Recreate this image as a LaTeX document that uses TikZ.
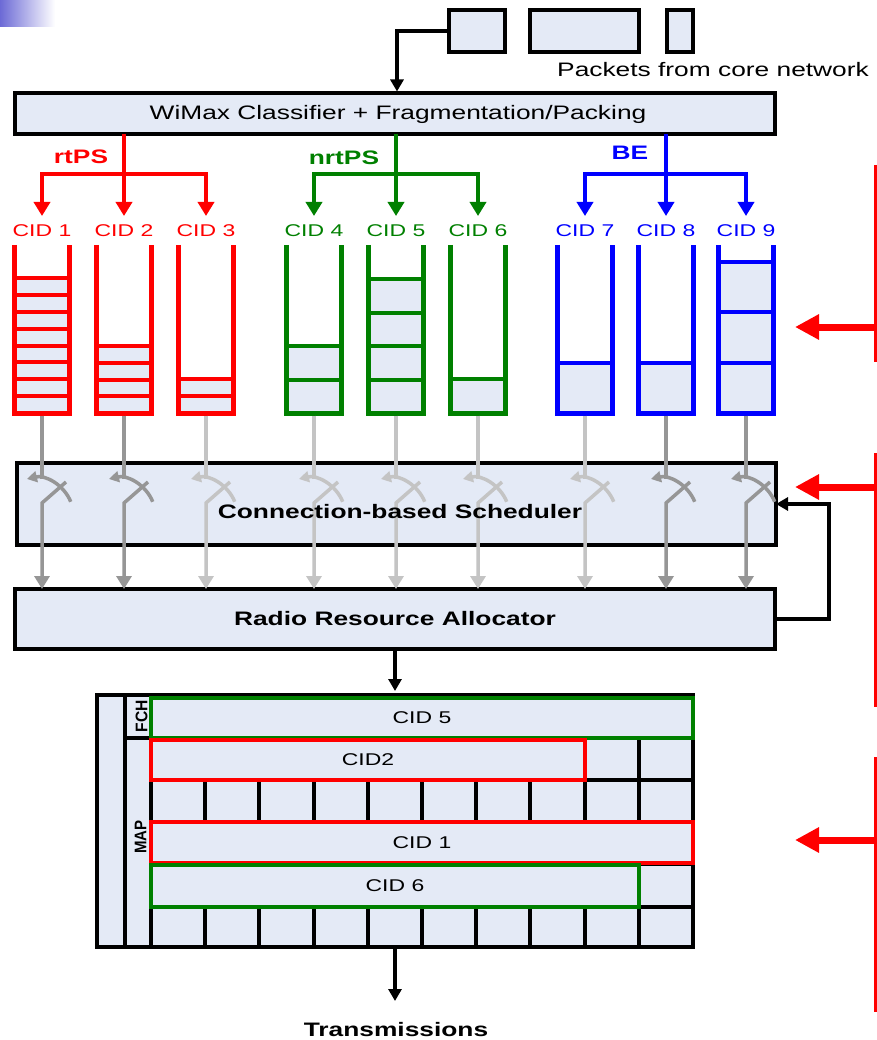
\documentclass[tikz,border=0pt]{standalone}
\usepackage{fontspec}
\setmainfont{Liberation Sans}
\usepackage{graphicx}
\usetikzlibrary{arrows.meta,calc}

\definecolor{boxfill}{RGB}{228,234,246}
\definecolor{rtred}{RGB}{255,0,0}
\definecolor{nrtgreen}{RGB}{0,128,0}
\definecolor{beblue}{RGB}{0,0,255}
\definecolor{swdark}{RGB}{150,150,150}
\definecolor{swlight}{RGB}{196,196,196}
\definecolor{cornerblue}{RGB}{108,106,214}

% wide sans lettering
\newcommand{\wide}[1]{\scalebox{1.35}[1]{#1}}

\tikzset{
  block/.style={draw=black, line width=3.5pt, fill=boxfill, inner sep=0pt, outer sep=0pt, anchor=north west},
  pkt/.style={draw=black, line width=4pt, fill=boxfill, inner sep=0pt, outer sep=0pt, anchor=north west},
  plaintxt/.style={font=\fontsize{19.5}{22}\selectfont, inner sep=0pt},
  boldtxt/.style={font=\fontsize{19.5}{22}\selectfont\bfseries, inner sep=0pt},
  cidtxt/.style={font=\fontsize{17}{20}\selectfont, inner sep=0pt},
  sidetxt/.style={font=\fontsize{12}{14}\selectfont\bfseries, inner sep=0pt, rotate=90},
  blk/.style={draw=black, line width=3.5pt, -{Triangle[width=13pt,length=12pt]}},
  branch/.style={line width=4pt, {Triangle[width=16pt,length=14pt]}-{Triangle[width=16pt,length=14pt]}},
  branchtrunk/.style={line width=4pt, -{Triangle[width=16pt,length=14pt]}},
  wall/.style={line width=5pt, line join=miter},
  cellline/.style={line width=4pt},
  greyline/.style={line width=3.5pt},
  lever/.style={line width=3.5pt, {Triangle[width=11pt,length=10pt]}-},
  droparrow/.style={line width=3.5pt, -{Triangle[width=15pt,length=13pt]}},
  cidslot/.style={line width=4pt, fill=boxfill, inner sep=0pt, outer sep=0pt, anchor=north west, font=\fontsize{17}{20}\selectfont},
  gridline/.style={line width=4pt, draw=black},
  alertarrow/.style={draw=rtred, line width=7pt, -{Triangle[width=24pt,length=24pt]}},
  alertbar/.style={draw=rtred, line width=3pt},
}

\begin{document}
\begin{tikzpicture}[x=1pt,y=-1pt]
\useasboundingbox (0,0) rectangle (876,1040);
\fill[white] (0,0) rectangle (876,1040);
\shade[left color=cornerblue, right color=white] (0,0) rectangle (55,27);

% incoming packets
\node[pkt, minimum width=56pt, minimum height=42pt] (p1) at (449,10) {};
\node[pkt, minimum width=109pt, minimum height=42pt] (p2) at (530,10) {};
\node[pkt, minimum width=26pt, minimum height=42pt] (p3) at (667,10) {};
\node[plaintxt, anchor=base west] (ptxt) at (557,77) {\wide{Packets from core network}};

% classifier
\node[block, minimum width=760pt, minimum height=41pt] (cls) at (15,93) {};
\node[plaintxt] (clstxt) at (398,114) {\wide{WiMax Classifier + Fragmentation/Packing}};
\coordinate (cin) at (397,93);
\draw[blk, shorten >=1.5pt] (p1.west) -| (cin);

% arrow ends above the queues
\foreach \i/\cx in {1/42,2/124,3/206,4/314,5/396,6/478,7/585,8/666,9/746}
  \coordinate (t\i) at (\cx,216);
\coordinate (rbar) at (124,174);
\coordinate (gbar) at (396,174);
\coordinate (bbar) at (666,174);

% service classes
\draw[branch, draw=rtred] (t1) |- (rbar) -| (t3);
\draw[branchtrunk, draw=rtred] (cls.south -| t2) -- (t2);
\draw[branch, draw=nrtgreen] (t4) |- (gbar) -| (t6);
\draw[branchtrunk, draw=nrtgreen] (cls.south -| t5) -- (t5);
\draw[branch, draw=beblue] (t7) |- (bbar) -| (t9);
\draw[branchtrunk, draw=beblue] (cls.south -| t8) -- (t8);

\node[boldtxt, text=rtred] (rtlab) at (81,157) {\wide{rtPS}};
\node[boldtxt, text=nrtgreen] (nrtlab) at (344,158) {\wide{nrtPS}};
\node[boldtxt, text=beblue] (belab) at (630,153) {\wide{BE}};

% queue labels
\foreach \i/\cx/\col in {1/42/rtred,2/124/rtred,3/206/rtred,4/314/nrtgreen,5/396/nrtgreen,6/478/nrtgreen,7/585/beblue,8/666/beblue,9/746/beblue}
  \node[cidtxt, text=\col, anchor=base] (l\i) at (\cx,237) {\wide{CID \i}};

% scheduler and allocator
\node[block, minimum width=759pt, minimum height=82pt] (sch) at (17,463) {};
\node[block, minimum width=760pt, minimum height=60pt, font=\fontsize{19.5}{22}\selectfont\bfseries] (rra) at (15,589) {\wide{Radio Resource Allocator}};

% queues
\foreach \i/\cx/\col/\n/\h in {1/42/rtred/8/16.875, 2/124/rtred/4/16.75, 3/206/rtred/2/17,
    4/314/nrtgreen/2/33.5, 5/396/nrtgreen/4/33.5, 6/478/nrtgreen/1/34,
    7/585/beblue/1/50.5, 8/666/beblue/1/50.5, 9/746/beblue/3/50.33} {
  \node[minimum width=55pt, minimum height=168pt, inner sep=0pt, outer sep=0pt, anchor=south] (q\i) at (\cx,413) {};
  \fill[boxfill] ($(q\i.south west)+(0,-\n*\h)$) rectangle (q\i.south east);
  \foreach \k in {1,...,\n}
    \draw[cellline, draw=\col] ($(q\i.south west)+(0,-\k*\h)$) -- ($(q\i.south east)+(0,-\k*\h)$);
  \draw[wall, draw=\col] (q\i.north west) -- (q\i.south west) -- (q\i.south east) -- (q\i.north east);
}

% switches of the scheduler
\foreach \i/\cx/\g in {1/42/swdark, 2/124/swdark, 3/206/swlight, 4/314/swlight, 5/396/swlight,
    6/478/swlight, 7/585/swlight, 8/666/swdark, 9/746/swdark} {
  \coordinate (pivot\i) at (\cx-6.5,516);
  \coordinate (blade\i) at (\cx+24,482);
  \draw[greyline, draw=\g] ([yshift=-2.5pt]q\i.south) -- (\cx,478.5);
  \draw[lever, draw=\g] ($(pivot\i)+(-103:38)$) arc[start angle=-103, end angle=-22, radius=38];
  \draw[droparrow, draw=\g] (blade\i) -- (\cx,503) -- (rra.north -| q\i.south);
}
\node[boldtxt] (schtxt) at (400,512) {\wide{Connection-based Scheduler}};

% feedback from allocator to scheduler
\draw[blk] (rra.east) -- ++(54,0) |- (sch.east);

% frame
\node[fill=boxfill, minimum width=596pt, minimum height=252pt, inner sep=0pt, outer sep=0pt, anchor=north west] (frame) at (97,695) {};
\foreach \k in {0,...,10}
  \draw[gridline] (151+\k*54.2,695) -- (151+\k*54.2,947);
\foreach \r in {738,780,822,864,907}
  \draw[gridline] (151,\r) -- (693,\r);
\draw[gridline] (125,695) -- (125,947);
\draw[gridline] (125,738) -- (151,738);
\draw[gridline] (frame.north west) rectangle (frame.south east);

\node[cidslot, draw=nrtgreen, minimum width=542pt, minimum height=40pt] (s5) at (151,697.5) {\wide{CID 5}};
\node[cidslot, draw=rtred, minimum width=434pt, minimum height=40pt] (s2) at (151,739.5) {\wide{CID2}};
\node[cidslot, draw=rtred, minimum width=542pt, minimum height=41pt] (s1) at (151,822) {\wide{CID 1}};
\node[cidslot, draw=nrtgreen, minimum width=488pt, minimum height=42pt] (s6) at (151,865) {\wide{CID 6}};

\node[sidetxt] (fch) at (141.5,716) {\scalebox{1.3}[1.4]{FCH}};
\node[sidetxt] (map) at (140.5,837) {\scalebox{1.25}[1.4]{MAP}};

\draw[blk, shorten >=4pt] (rra.south) -- (rra.south |- frame.north);
\coordinate (txtop) at (395,1001);
\draw[blk] (frame.south -| txtop) -- (txtop);
\node[boldtxt] (trans) at (396,1030) {\wide{Transmissions}};

% red markers on the right
\coordinate (m1top) at (875.5,165);  \coordinate (m1bot) at (875.5,362);
\coordinate (m2top) at (875.5,453);  \coordinate (m2bot) at (875.5,707);
\coordinate (m3top) at (875.5,757);  \coordinate (m3bot) at (875.5,1012);
\draw[alertbar] (m1top) -- (m1bot);
\draw[alertbar] (m2top) -- (m2bot);
\draw[alertbar] (m3top) -- (m3bot);
\coordinate (m1tip) at (795,327);
\coordinate (m2tip) at (795,487);
\coordinate (m3tip) at (795,840);
\draw[alertarrow] (m1top |- m1tip) -- (m1tip);
\draw[alertarrow] (m2top |- m2tip) -- (m2tip);
\draw[alertarrow] (m3top |- m3tip) -- (m3tip);
\end{tikzpicture}
\end{document}
